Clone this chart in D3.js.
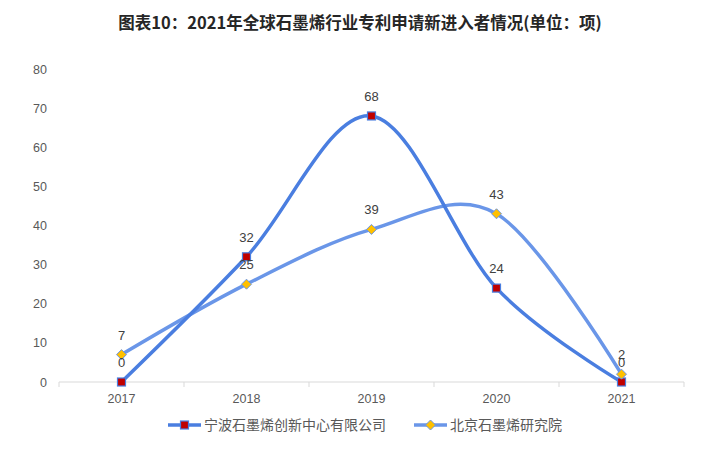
<!DOCTYPE html>
<html><head><meta charset="utf-8">
<script src="https://cdn.jsdelivr.net/npm/d3@7"></script>
<style>body{margin:0;background:#fff;}svg{display:block;font-family:"Liberation Sans","Noto Sans CJK SC",sans-serif;}</style>
</head><body><svg id="c" width="713" height="452"></svg>
<script>
const categories = ["2017","2018","2019","2020","2021"];
const seriesNames = ["宁波石墨烯创新中心有限公司","北京石墨烯研究院"];
const ningbo = [0,32,68,24,0];
const beijing = [7,25,39,43,2];
const yTicks = [0,10,20,30,40,50,60,70,80];
const title = "图表10：2021年全球石墨烯行业专利申请新进入者情况(单位：项)";

const svg = d3.select("#c");
const x = d3.scaleBand().domain(categories).range([59,684]);
const y = d3.scaleLinear().domain([0,80]).range([382,69]);
const cx = d => x(d) + x.bandwidth()/2;

svg.append("text").attr("x",360).attr("y",29).attr("text-anchor","middle")
  .attr("font-family","'Noto Sans CJK SC',sans-serif").attr("font-weight","bold")
  .attr("font-size",16.5).attr("fill","#262626").text(title);

// y labels
svg.selectAll(".yl").data(yTicks).enter().append("text")
  .attr("x",47).attr("y",d=>y(d)+4.5).attr("text-anchor","end")
  .attr("font-size",12.5).attr("fill","#595959").text(d=>d);

// x axis
const xa = svg.append("g").attr("transform","translate(0,382)");
xa.append("line").attr("x1",59).attr("x2",684).attr("stroke","#D9D9D9");
const bounds = categories.map(c=>x(c)).concat([x.range()[1]]);
xa.selectAll(".tk").data(bounds).enter().append("line")
  .attr("x1",d=>d).attr("x2",d=>d).attr("y1",0).attr("y2",5).attr("stroke","#D9D9D9");
xa.selectAll(".xl").data(categories).enter().append("text")
  .attr("x",d=>cx(d)).attr("y",21).attr("text-anchor","middle")
  .attr("font-size",12.5).attr("fill","#595959").text(d=>d);

const line = d3.line().x((d,i)=>cx(categories[i])).y(d=>y(d)).curve(d3.curveCatmullRom.alpha(0));

const colors = ["#4A7EE0","#6A96E8"];
svg.append("path").attr("d",line(beijing)).attr("fill","none").attr("stroke",colors[1]).attr("stroke-width",3.5);
svg.append("path").attr("d",line(ningbo)).attr("fill","none").attr("stroke",colors[0]).attr("stroke-width",3.5);

function square(g,xx,yy){g.append("rect").attr("x",xx-4).attr("y",yy-4).attr("width",8).attr("height",8).attr("fill","#C00000").attr("stroke","#4A7EE0").attr("stroke-width",1.2);}
function diamond(g,xx,yy){g.append("path").attr("d",`M${xx},${yy-5}L${xx+5},${yy}L${xx},${yy+5}L${xx-5},${yy}Z`).attr("fill","#FFC000").attr("stroke","#6A96E8").attr("stroke-width",1);}

ningbo.forEach((v,i)=>square(svg,cx(categories[i]),y(v)));
beijing.forEach((v,i)=>diamond(svg,cx(categories[i]),y(v)));

const lab = (arr)=>arr.forEach((v,i)=>svg.append("text").attr("x",cx(categories[i])).attr("y",y(v)-15)
  .attr("text-anchor","middle").attr("font-size",13).attr("fill","#404040").text(v));
lab(ningbo); lab(beijing);

// legend
const lg = svg.append("g");
lg.append("line").attr("x1",168).attr("x2",201).attr("y1",425).attr("y2",425).attr("stroke",colors[0]).attr("stroke-width",3.5);
square(lg,184.5,425);
lg.append("text").attr("x",204).attr("y",430).attr("font-family","'Noto Sans CJK SC',sans-serif").attr("font-size",14).attr("fill","#595959").text(seriesNames[0]);
lg.append("line").attr("x1",414).attr("x2",447).attr("y1",425).attr("y2",425).attr("stroke",colors[1]).attr("stroke-width",3.5);
diamond(lg,430.5,425);
lg.append("text").attr("x",450).attr("y",430).attr("font-family","'Noto Sans CJK SC',sans-serif").attr("font-size",14).attr("fill","#595959").text(seriesNames[1]);
</script></body></html>
